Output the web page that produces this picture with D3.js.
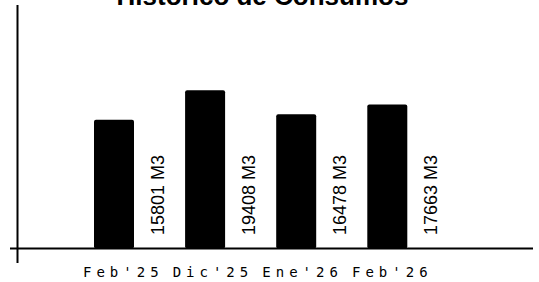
<!DOCTYPE html>
<meta charset="utf-8">
<style>
body { margin: 0; background: #fff; }
.title { font: bold 26px "Liberation Sans", Arial, sans-serif; text-anchor: middle; }
.val { font: 18px "Liberation Sans", Arial, sans-serif; }
.cat { font: 14px "DejaVu Sans Mono", monospace; letter-spacing: 5px; }
</style>
<svg width="539" height="282"></svg>
<script src="https://d3js.org/d3.v7.min.js"></script>
<script>

var categories = ["Feb'25", "Dic'25", "Ene'26", "Feb'26"];
var consumos = [15801, 19408, 16478, 17663];
var unidad = "M3";

var svg = d3.select("svg"),
    width = +svg.attr("width"),
    height = +svg.attr("height");

var baseY = 248.5;

// left edge of each bar
var x = d3.scalePoint()
    .domain(categories)
    .range([94, 367.3]);

// start of each category label
var xl = d3.scalePoint()
    .domain(categories)
    .range([83, 352]);

var y = d3.scaleLinear()
    .domain([0, 20000])
    .range([baseY, baseY - 163]);

var data = categories.map(function(c, i) { return {cat: c, value: consumos[i]}; });

svg.append("text")
    .attr("class", "title")
    .attr("x", 262.5)
    .attr("y", 5)
    .text("Historico de Consumos");

svg.selectAll(".bar")
  .data(data)
  .enter().append("rect")
    .attr("class", "bar")
    .attr("x", function(d) { return x(d.cat); })
    .attr("y", function(d) { return y(d.value); })
    .attr("width", 40)
    .attr("height", function(d) { return baseY - y(d.value); })
    .attr("rx", 2)
    .attr("fill", "#000");

svg.selectAll(".val")
  .data(data)
  .enter().append("text")
    .attr("class", "val")
    .attr("transform", function(d) { return "translate(" + (x(d.cat) + 69.5) + ",235) rotate(-90)"; })
    .text(function(d) { return d.value + " " + unidad; });

svg.selectAll(".cat")
  .data(categories)
  .enter().append("text")
    .attr("class", "cat")
    .attr("x", function(d) { return xl(d); })
    .attr("y", 277)
    .text(function(d) { return d; });

// axes
svg.append("line")
    .attr("x1", 10).attr("x2", 533)
    .attr("y1", baseY).attr("y2", baseY)
    .attr("stroke", "#000").attr("stroke-width", 2);

svg.append("line")
    .attr("x1", 17.5).attr("x2", 17.5)
    .attr("y1", 5).attr("y2", 263)
    .attr("stroke", "#000").attr("stroke-width", 2);

</script>
